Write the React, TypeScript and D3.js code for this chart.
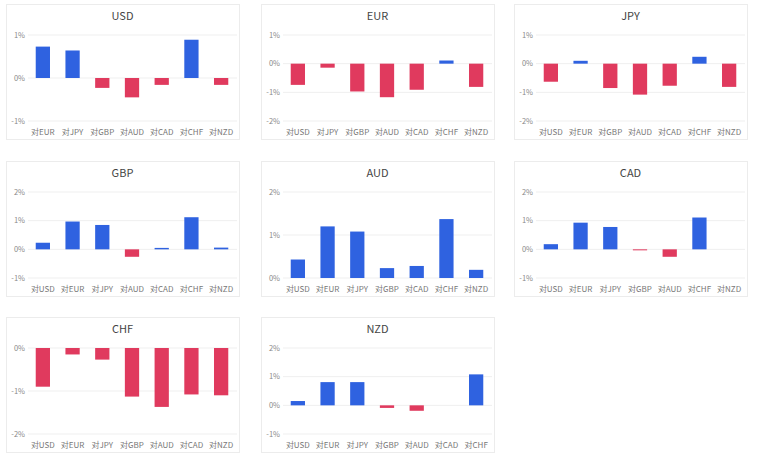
import { FC } from 'react';
import * as d3 from 'd3';

// currency panels, in reading order
const currencies = ["USD", "EUR", "JPY", "GBP", "AUD", "CAD", "CHF", "NZD"];

const usdCats = ["对EUR", "对JPY", "对GBP", "对AUD", "对CAD", "对CHF", "对NZD"];
const usdVals = [0.73, 0.64, -0.23, -0.45, -0.16, 0.89, -0.16];

const eurCats = ["对USD", "对JPY", "对GBP", "对AUD", "对CAD", "对CHF", "对NZD"];
const eurVals = [-0.74, -0.14, -0.97, -1.17, -0.91, 0.11, -0.81];

const jpyCats = ["对USD", "对EUR", "对GBP", "对AUD", "对CAD", "对CHF", "对NZD"];
const jpyVals = [-0.63, 0.1, -0.85, -1.08, -0.77, 0.24, -0.81];

const gbpCats = ["对USD", "对EUR", "对JPY", "对AUD", "对CAD", "对CHF", "对NZD"];
const gbpVals = [0.23, 0.97, 0.85, -0.26, 0.05, 1.12, 0.06];

const audCats = ["对USD", "对EUR", "对JPY", "对GBP", "对CAD", "对CHF", "对NZD"];
const audVals = [0.43, 1.2, 1.08, 0.23, 0.28, 1.37, 0.19];

const cadCats = ["对USD", "对EUR", "对JPY", "对GBP", "对AUD", "对CHF", "对NZD"];
const cadVals = [0.18, 0.93, 0.78, -0.02, -0.26, 1.11, 0];

const chfCats = ["对USD", "对EUR", "对JPY", "对GBP", "对AUD", "对CAD", "对NZD"];
const chfVals = [-0.9, -0.15, -0.27, -1.13, -1.37, -1.08, -1.1];

const nzdCats = ["对USD", "对EUR", "对JPY", "对GBP", "对AUD", "对CAD", "对CHF"];
const nzdVals = [0.15, 0.81, 0.81, -0.09, -0.19, 0, 1.08];

// y ranges (in %) of each panel
const yDomains: [number, number][] = [
    [-1, 1], [-2, 1], [-2, 1], [-1, 2], [0, 2], [-1, 2], [-2, 0], [-1, 2],
];

const allCats = [usdCats, eurCats, jpyCats, gbpCats, audCats, cadCats, chfCats, nzdCats];
const allVals = [usdVals, eurVals, jpyVals, gbpVals, audVals, cadVals, chfVals, nzdVals];

const W = 760;
const H = 459;
const colX = [6, 261, 514];
const rowY = [4, 161, 317];
const pw = 233;
const ph = 135;

const BLUE = "#2f62e0";
const RED = "#e03a5e";
const FONT = "'Noto Sans CJK SC', 'Noto Sans', sans-serif";

interface PanelProps {
    title: string;
    cats: string[];
    vals: number[];
    domain: [number, number];
    x: number;
    y: number;
}

const Panel: FC<PanelProps> = ({ title, cats, vals, domain, x, y }) => {
    const xScale = d3.scaleBand<string>()
        .domain(cats)
        .range([22, 230])
        .paddingInner(0.52)
        .paddingOuter(0.26);

    const yScale = d3.scaleLinear()
        .domain(domain)
        .range([117, 31]);

    const ticks = d3.range(domain[0], domain[1] + 1);
    const y0 = yScale(0);

    return (
        <g transform={`translate(${x},${y})`}>
            <rect x={0.5} y={0.5} width={pw} height={ph} fill="#fff" stroke="#ececec" />
            <text x={pw / 2} y={16} textAnchor="middle" fontSize={11} fill="#444" fontFamily={FONT}>
                {title}
            </text>
            {/* grid + y labels */}
            {ticks.map(t => (
                <g key={t}>
                    <line x1={22} x2={231} y1={yScale(t)} y2={yScale(t)} stroke="#efefef" strokeWidth={1} />
                    <text x={19} y={yScale(t)} dy="0.35em" textAnchor="end" fontSize={7.5} fill="#888" fontFamily={FONT}>
                        {`${t}%`}
                    </text>
                </g>
            ))}
            {/* bars */}
            {vals.map((v, i) => (
                v === 0 ? null : (
                    <rect
                        key={cats[i]}
                        x={xScale(cats[i])}
                        width={xScale.bandwidth()}
                        y={Math.min(y0, yScale(v))}
                        height={Math.max(1, Math.abs(yScale(v) - y0))}
                        fill={v >= 0 ? BLUE : RED}
                    />
                )
            ))}
            {/* x labels */}
            {cats.map(c => (
                <text
                    key={c}
                    x={(xScale(c) ?? 0) + xScale.bandwidth() / 2}
                    y={131}
                    textAnchor="middle"
                    fontSize={8}
                    fill="#777"
                    fontFamily={FONT}
                >
                    {c}
                </text>
            ))}
        </g>
    );
};

const App: FC = () => {
    return (
        <svg
            width={W}
            height={H}
            viewBox={`0 0 ${W} ${H}`}
            style={{ position: "absolute", left: 0, top: 0, background: "#fff" }}
        >
            {currencies.map((c, i) => (
                <Panel
                    key={c}
                    title={c}
                    cats={allCats[i]}
                    vals={allVals[i]}
                    domain={yDomains[i]}
                    x={colX[i % 3]}
                    y={rowY[Math.floor(i / 3)]}
                />
            ))}
        </svg>
    );
};

export default App;
